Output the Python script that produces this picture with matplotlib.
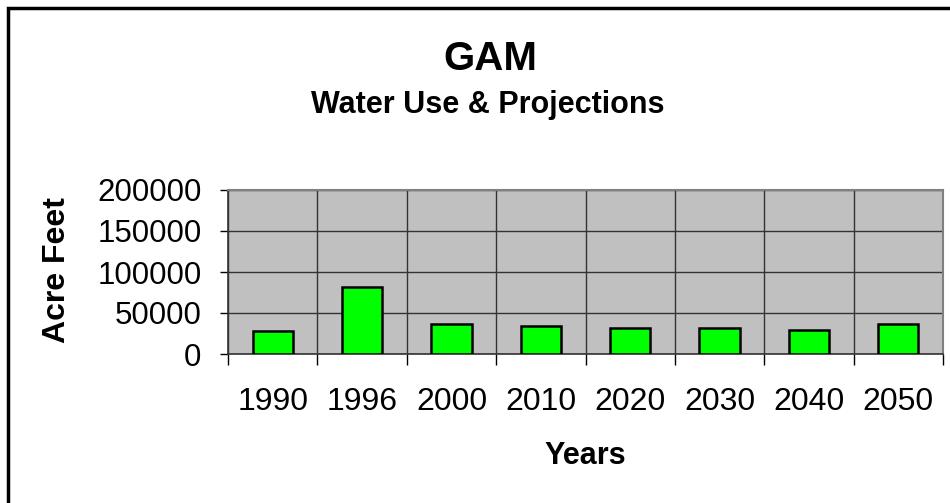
import matplotlib
matplotlib.use("Agg")
import matplotlib.pyplot as plt
from matplotlib.patches import Rectangle

plt.rcParams['font.family'] = ['Liberation Sans', 'DejaVu Sans']

years = ["1990", "1996", "2000", "2010", "2020", "2030", "2040", "2050"]
acre_feet = [28400, 82000, 36100, 33700, 31200, 31200, 28800, 36100]
y_ticks = [0, 50000, 100000, 150000, 200000]

W, H = 950, 503
fig = plt.figure(figsize=(W / 100, H / 100), dpi=100)

# figure frame
fig.patches.append(Rectangle((8 / W, -0.1), 2, 1.1 - 8 / H, transform=fig.transFigure,
                             fill=False, edgecolor='black', linewidth=2.5))

L, R, T, B = 228, 943, 190, 354
ax = fig.add_axes([L / W, (H - B) / H, (R - L) / W, (B - T) / H])
ax.set_facecolor('#C0C0C0')

x = list(range(len(years)))
ax.bar(x, acre_feet, width=0.45, color='#00FF00', edgecolor='black', linewidth=1.8, zorder=3)

ax.set_xlim(-0.5, len(years) - 0.5)
ax.set_ylim(0, 200000)

# x: tick marks at category boundaries, labels at centers
bounds = [i - 0.5 for i in range(len(years) + 1)]
ax.set_xticks(bounds)
ax.set_xticklabels([])
ax.tick_params(axis='x', which='major', length=8, width=1, color='black', direction='out')
ax.set_xticks(x, minor=True)
ax.set_xticklabels(years, minor=True, fontsize=23)
ax.tick_params(axis='x', which='minor', length=0, pad=24)

ax.set_yticks(y_ticks)
ax.set_yticklabels([str(v) for v in y_ticks], fontsize=22.5)
ax.tick_params(axis='y', length=6, width=1, color='black', direction='out', pad=13)

ax.grid(True, which='major', color='#333333', linewidth=1, zorder=1)
ax.set_axisbelow(True)

for s in ['top', 'right']:
    ax.spines[s].set_color('#808080')
    ax.spines[s].set_linewidth(1.5)
for s in ['bottom', 'left']:
    ax.spines[s].set_color('#333333')
    ax.spines[s].set_linewidth(1.2)

fig.text(490 / W, 1 - 70 / H, "GAM", ha='center', va='baseline', fontsize=29, fontweight='bold')
fig.text(488 / W, 1 - 113 / H, "Water Use & Projections", ha='center', va='baseline',
         fontsize=22, fontweight='bold')
fig.text(57 / W, 1 - 270 / H, "Acre Feet", ha='center', va='center', rotation=90,
         fontsize=23, fontweight='bold')
fig.text(585 / W, 1 - 456 / H, "Years", ha='center', va='center', fontsize=22, fontweight='bold')

fig.savefig("out.png", dpi=100)
